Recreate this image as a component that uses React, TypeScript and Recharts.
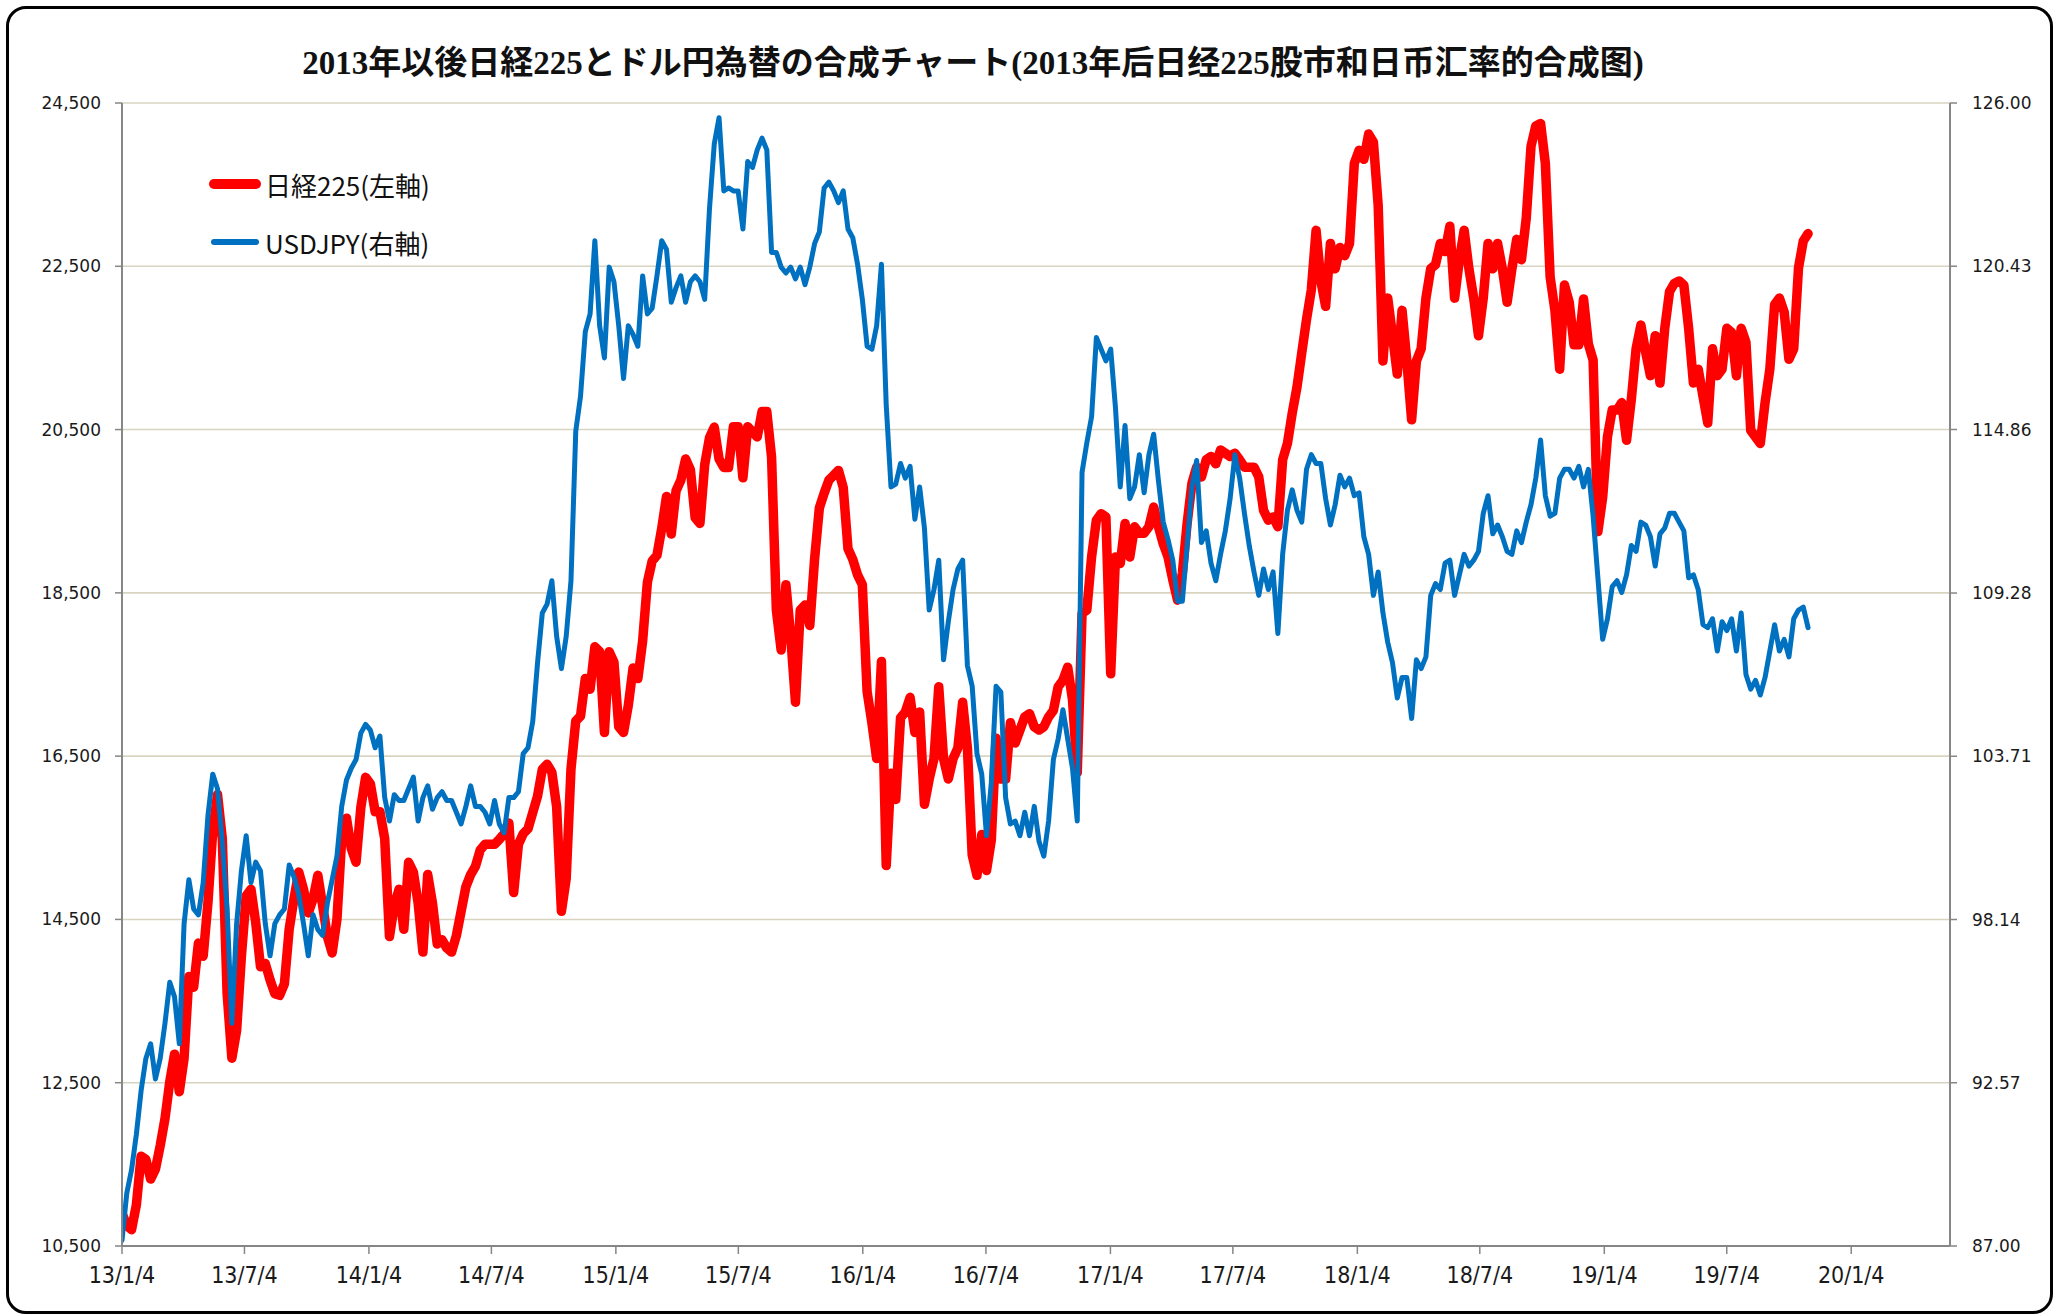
import React from 'react';
import { LineChart, Line, XAxis, YAxis, CartesianGrid } from 'recharts';

const CHART_TITLE = '2013年以後日経225とドル円為替の合成チャート(2013年后日经225股市和日币汇率的合成图)';
const SERIES_NAMES = ['日経225(左軸)', 'USDJPY(右軸)'];
const SERIES_COLORS = ['#FF0000', '#0070C0'];

// sampling of the picture: one reading roughly every week starting 2013-01-04
const START_DATE = '2013-01-04';
const SAMPLE_STEP_DAYS = 7.06;
const X_DOMAIN_END = '2020-05-29';

const nikkei225 = [
  10900, 10750, 10700, 11000, 11600, 11560, 11320, 11440, 11730, 12060,
  12510, 12850, 12390, 12800, 13800, 13670, 14210, 14050, 14710, 15580,
  16030, 15490, 13600, 12800, 13140, 14050, 14790, 14870, 14460, 13920,
  13960, 13760, 13590, 13570, 13710, 14380, 14750, 15080, 14870, 14580,
  14750, 15040, 14670, 14290, 14090, 14500, 15490, 15740, 15370, 15200,
  15870, 16240, 16160, 15820, 15820, 15490, 14290, 14670, 14870, 14380,
  15200, 15080, 14700, 14100, 15050, 14700, 14200, 14250, 14150, 14100,
  14300, 14600, 14900, 15050, 15150, 15350, 15420, 15420, 15420, 15480,
  15550, 15680, 14830, 15420, 15550, 15610, 15810, 16010, 16340, 16400,
  16300, 15880, 14600, 15000, 16340, 16930, 16990, 17450, 17320, 17840,
  17780, 16790, 17780, 17650, 16860, 16790, 17120, 17580, 17450, 17910,
  18630, 18890, 18960, 19290, 19680, 19220, 19750, 19880, 20140, 20010,
  19420, 19350, 20070, 20400, 20530, 20140, 20035, 20035, 20535, 20535,
  19910, 20535, 20470, 20410, 20720, 20720, 20160, 18290, 17800, 18600,
  17970, 17160, 18290, 18350, 18100, 18910, 19540, 19720, 19880, 19940,
  20000, 19790, 19040, 18910, 18720, 18600, 17290, 16910, 16470, 17660,
  15160, 16290, 15970, 16970, 17040, 17220, 16790, 17040, 15910, 16220,
  16470, 17350, 16470, 16220, 16470, 16600, 17160, 16600, 15290, 15040,
  15540, 15100, 15470, 16720, 16220, 16220, 16910, 16660, 16820, 16980,
  17020, 16860, 16820, 16860, 16980, 17060, 17350, 17430, 17590, 17190,
  16300, 18250, 18290, 18940, 19390, 19470, 19430, 17510, 18940, 18860,
  19350, 18940, 19310, 19230, 19230, 19310, 19550, 19310, 19100, 18940,
  18660, 18410, 18740, 19350, 19840, 20040, 19920, 20130, 20170, 20080,
  20250, 20210, 20170, 20210, 20130, 20040, 20040, 20040, 19920, 19510,
  19390, 19430, 19310, 20130, 20330, 20700, 21020, 21440, 21850, 22210,
  22940, 22320, 22010, 22780, 22470, 22730, 22630, 22780, 23760, 23920,
  23810, 24120, 24020, 23250, 21340, 22110, 21650, 21180, 21960, 21340,
  20620, 21340, 21490, 22110, 22470, 22520, 22780, 22680, 22990, 22110,
  22580, 22940, 22470, 22110, 21650, 22110, 22780, 22470, 22780, 22470,
  22060, 22470, 22830, 22580, 23090, 23970, 24220, 24250, 23760, 22370,
  21960, 21240, 22270, 22060, 21540, 21540, 22100, 21550, 21350, 19250,
  19670, 20410, 20740, 20740, 20830, 20370, 20870, 21490, 21780, 21450,
  21160, 21650, 21070, 21740, 22190, 22290, 22320, 22270, 21740, 21070,
  21240, 20910, 20580, 21490, 21160, 21240, 21740, 21690, 21160, 21740,
  21570, 20490, 20410, 20330, 20830, 21240, 22030, 22110, 21940, 21360,
  21490, 22480, 22810, 22900,
];

const usdjpy = [
  87.2, 88.8, 89.6, 90.8, 92.3, 93.4, 93.9, 92.7, 93.4, 94.6,
  96.0, 95.5, 93.9, 98.0, 99.5, 98.5, 98.3, 99.4, 101.7, 103.1,
  102.6, 100.8, 98.5, 94.6, 98.0, 99.8, 101.0, 99.4, 100.1, 99.8,
  98.0, 96.9, 98.0, 98.3, 98.5, 100.0, 99.6, 99.0, 98.0, 96.9,
  98.3, 97.8, 97.6, 98.7, 99.5, 100.3, 102.0, 102.9, 103.3, 103.6,
  104.5, 104.8, 104.6, 104.0, 104.4, 102.3, 101.5, 102.4, 102.2, 102.2,
  102.6, 103.0, 101.5, 102.3, 102.7, 101.9, 102.3, 102.5, 102.2, 102.2,
  101.8, 101.4, 102.0, 102.7, 102.0, 102.0, 101.8, 101.4, 102.2, 101.4,
  101.1, 102.3, 102.3, 102.5, 103.8, 104.0, 104.9, 106.9, 108.6, 108.9,
  109.7, 107.8, 106.7, 107.8, 109.7, 114.8, 116.0, 118.2, 118.8, 121.3,
  118.4, 117.3, 120.4, 119.9, 118.4, 116.6, 118.4, 118.1, 117.7, 120.1,
  118.8, 119.0, 120.1, 121.3, 121.0, 119.2, 119.7, 120.1, 119.2, 119.9,
  120.1, 119.9, 119.3, 122.4, 124.6, 125.5, 123.0, 123.1, 123.0, 123.0,
  121.7, 124.0, 123.8, 124.4, 124.8, 124.4, 120.9, 120.9, 120.4, 120.2,
  120.4, 120.0, 120.4, 119.8, 120.4, 121.2, 121.6, 123.1, 123.3, 123.0,
  122.6, 123.0, 121.7, 121.4, 120.5, 119.3, 117.7, 117.6, 118.4, 120.5,
  115.7, 112.9, 113.0, 113.7, 113.2, 113.6, 111.8, 112.9, 111.5, 108.7,
  109.4, 110.4, 107.0, 108.3, 109.4, 110.1, 110.4, 106.8, 106.1, 103.8,
  103.1, 101.0, 102.8, 106.1, 105.9, 102.3, 101.4, 101.5, 101.0, 101.8,
  101.0, 102.0, 100.8, 100.3, 101.5, 103.6, 104.3, 105.3, 104.3, 103.3,
  101.5, 113.4, 114.4, 115.3, 118.0, 117.6, 117.2, 117.6, 115.6, 112.9,
  115.0, 112.5, 112.9, 114.0, 112.7, 114.0, 114.7, 113.1, 111.7, 111.1,
  110.4, 109.0, 109.0, 110.9, 112.9, 113.8, 111.0, 111.4, 110.3, 109.7,
  110.6, 111.4, 112.5, 114.0, 113.2, 112.0, 110.9, 110.0, 109.2, 110.1,
  109.4, 110.0, 107.9, 110.6, 112.1, 112.8, 112.1, 111.7, 113.5, 114.0,
  113.7, 113.7, 112.5, 111.6, 112.3, 113.3, 112.9, 113.2, 112.6, 112.7,
  111.2, 110.6, 109.2, 110.0, 108.6, 107.6, 106.9, 105.7, 106.4, 106.4,
  105.0, 107.0, 106.7, 107.1, 109.2, 109.6, 109.4, 110.3, 110.4, 109.2,
  109.9, 110.6, 110.2, 110.4, 110.7, 112.0, 112.6, 111.3, 111.6, 111.2,
  110.7, 110.6, 111.4, 111.0, 111.7, 112.3, 113.2, 114.5, 112.6, 111.9,
  112.0, 113.2, 113.5, 113.5, 113.2, 113.6, 112.9, 113.5, 111.9, 109.8,
  107.7, 108.4, 109.5, 109.7, 109.3, 109.9, 110.9, 110.7, 111.7, 111.6,
  111.2, 110.2, 111.3, 111.5, 112.0, 112.0, 111.7, 111.4, 109.8, 109.9,
  109.4, 108.2, 108.1, 108.4, 107.3, 108.3, 108.0, 108.4, 107.3, 108.6,
  106.5, 106.0, 106.3, 105.8, 106.4, 107.3, 108.2, 107.3, 107.7, 107.1,
  108.4, 108.7, 108.8, 108.1,
];

const X_TICK_DATES = [
  '2013-01-04', '2013-07-04', '2014-01-04', '2014-07-04', '2015-01-04',
  '2015-07-04', '2016-01-04', '2016-07-04', '2017-01-04', '2017-07-04',
  '2018-01-04', '2018-07-04', '2019-01-04', '2019-07-04', '2020-01-04',
];
const LEFT_TICKS = [10500, 12500, 14500, 16500, 18500, 20500, 22500, 24500];
const RIGHT_TICKS = [87, 92.57, 98.14, 103.71, 109.28, 114.86, 120.43, 126];

const DAY_MS = 86400000;
const dayOffset = (d: string) => (Date.parse(d) - Date.parse(START_DATE)) / DAY_MS;
const formatDay = (v: number) => {
  const dt = new Date(Date.parse(START_DATE) + Math.round(v) * DAY_MS);
  return `${String(dt.getUTCFullYear()).slice(2)}/${dt.getUTCMonth() + 1}/${dt.getUTCDate()}`;
};

const tableData = nikkei225.map((n, i) => ({
  day: i * SAMPLE_STEP_DAYS,
  nikkei: n,
  usdjpy: usdjpy[i],
}));

const X_DOMAIN: [number, number] = [0, dayOffset(X_DOMAIN_END)];

const AXIS_GRAY = '#868686';
const LABEL_COLOR = '#1a1a1a';
const CJK_FONT = '"Noto Sans CJK JP", "Noto Sans", sans-serif';
const TITLE_FONT = '"Liberation Serif", "Noto Sans CJK JP", serif';

export default function App() {
  return (
    <div style={{ position: 'absolute', left: 0, top: 0, width: 2065, height: 1316, background: '#ffffff' }}>
      <div
        style={{
          position: 'absolute', left: 6, top: 6, width: 2041, height: 1302,
          border: '3.5px solid #000', borderRadius: 20, boxSizing: 'content-box',
        }}
      />
      <div
        style={{
          position: 'absolute', left: 0, top: 43, width: 1946, height: 40,
          lineHeight: '40px', textAlign: 'center', fontFamily: TITLE_FONT,
          fontSize: 33, fontWeight: 700, color: '#111', whiteSpace: 'nowrap',
        }}
      >
        {CHART_TITLE}
      </div>
      <div style={{ position: 'absolute', left: 0, top: 0 }}>
        <LineChart
          width={2065}
          height={1316}
          data={tableData}
          margin={{ top: 103, right: 35, bottom: 30, left: 42 }}
        >
          <CartesianGrid
            xAxisId="bottom"
            yAxisId="left"
            vertical={false}
            stroke="#d8d4c0"
            strokeWidth={1.6}
          />
          <XAxis
            xAxisId="bottom"
            dataKey="day"
            type="number"
            domain={X_DOMAIN}
            allowDataOverflow
            ticks={X_TICK_DATES.map(dayOffset)}
            interval={0}
            tickFormatter={formatDay}
            height={40}
            tickSize={8}
            tickMargin={13}
            axisLine={{ stroke: AXIS_GRAY, strokeWidth: 2 }}
            tickLine={{ stroke: AXIS_GRAY, strokeWidth: 1.5 }}
            tick={{ fontSize: 23, fontFamily: '"DejaVu Sans Condensed", "Liberation Sans Narrow", sans-serif', fill: LABEL_COLOR }}
          />
          <XAxis
            xAxisId="top"
            orientation="top"
            type="number"
            domain={X_DOMAIN}
            allowDataOverflow
            height={0}
            tick={false}
            tickLine={false}
            axisLine={{ stroke: '#000', strokeWidth: 2 }}
          />
          <YAxis
            yAxisId="left"
            orientation="left"
            width={80}
            domain={[10500, 24500]}
            allowDataOverflow
            ticks={LEFT_TICKS}
            interval={0}
            tickFormatter={(v: number) => v.toLocaleString('en-US')}
            tickSize={7}
            tickMargin={14}
            axisLine={{ stroke: AXIS_GRAY, strokeWidth: 2 }}
            tickLine={{ stroke: AXIS_GRAY, strokeWidth: 1.5 }}
            tick={{ fontSize: 17, fontFamily: '"DejaVu Sans", Verdana, sans-serif', fill: LABEL_COLOR }}
          />
          <YAxis
            yAxisId="right"
            orientation="right"
            width={80}
            domain={[87, 126]}
            allowDataOverflow
            ticks={RIGHT_TICKS}
            interval={0}
            tickFormatter={(v: number) => v.toFixed(2)}
            tickSize={7}
            tickMargin={15}
            axisLine={{ stroke: AXIS_GRAY, strokeWidth: 2 }}
            tickLine={{ stroke: AXIS_GRAY, strokeWidth: 1.5 }}
            tick={{ fontSize: 17, fontFamily: '"DejaVu Sans", Verdana, sans-serif', fill: LABEL_COLOR }}
          />
          <Line
            xAxisId="bottom"
            yAxisId="left"
            type="linear"
            dataKey="nikkei"
            name={SERIES_NAMES[0]}
            stroke={SERIES_COLORS[0]}
            strokeWidth={9.5}
            strokeLinejoin="round"
            strokeLinecap="round"
            dot={false}
            isAnimationActive={false}
          />
          <Line
            xAxisId="bottom"
            yAxisId="right"
            type="linear"
            dataKey="usdjpy"
            name={SERIES_NAMES[1]}
            stroke={SERIES_COLORS[1]}
            strokeWidth={5}
            strokeLinejoin="round"
            strokeLinecap="round"
            dot={false}
            isAnimationActive={false}
          />
        </LineChart>
      </div>
      {SERIES_NAMES.map((name, i) => (
        <div
          key={name}
          style={{
            position: 'absolute', left: 209, top: i === 0 ? 166 : 224, height: 36,
            display: 'flex', alignItems: 'center', fontFamily: CJK_FONT,
            fontSize: 26, color: '#111', whiteSpace: 'nowrap',
          }}
        >
          <svg width={52} height={36} style={{ marginRight: 4 }}>
            <line
              x1={5} y1={18} x2={47} y2={18}
              stroke={SERIES_COLORS[i]}
              strokeWidth={i === 0 ? 10 : 6}
              strokeLinecap="round"
            />
          </svg>
          <span>{name}</span>
        </div>
      ))}
    </div>
  );
}
